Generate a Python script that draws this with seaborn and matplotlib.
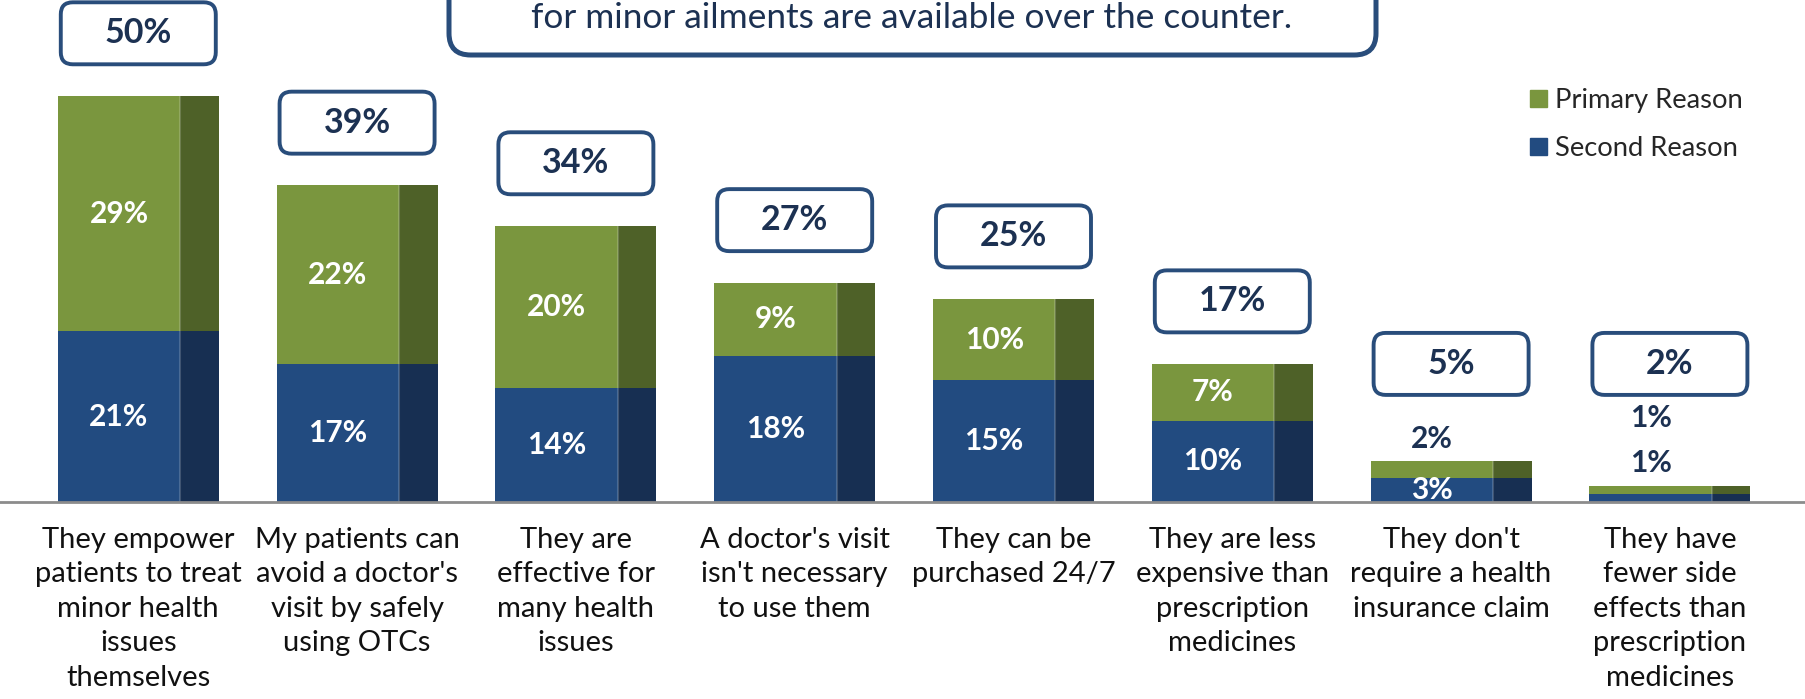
import matplotlib
matplotlib.use("Agg")
import pandas as pd
import matplotlib.pyplot as plt
import seaborn as sns
from matplotlib.patches import FancyBboxPatch, Rectangle, Patch

# --- data
categories = [
    "They empower\npatients to treat\nminor health\nissues\nthemselves",
    "My patients can\navoid a doctor's\nvisit by safely\nusing OTCs",
    "They are\neffective for\nmany health\nissues",
    "A doctor's visit\nisn't necessary\nto use them",
    "They can be\npurchased 24/7",
    "They are less\nexpensive than\nprescription\nmedicines",
    "They don't\nrequire a health\ninsurance claim",
    "They have\nfewer side\neffects than\nprescription\nmedicines",
]
primary = [29, 22, 20, 9, 10, 7, 2, 1]
second = [21, 17, 14, 18, 15, 10, 3, 1]
totals = [50, 39, 34, 27, 25, 17, 5, 2]
series_names = ["Primary Reason", "Second Reason"]
title_line = "for minor ailments are available over the counter."

# --- colours
GREEN = "#7A963E"
GREEN_SIDE = "#4E6128"
BLUE = "#224B80"
BLUE_SIDE = "#172F52"
BOX_EDGE = "#294D7B"
NAVY = "#1C3152"

df = pd.DataFrame({"category": categories, "primary": primary,
                   "second": second, "total": totals})

sns.set_theme(style="white")
plt.rcParams["font.family"] = ["Lato", "DejaVu Sans"]

W, H = 1806, 699
fig = plt.figure(figsize=(W / 100, H / 100), dpi=100)
ax_bottom_px = 197
ax = fig.add_axes([0, ax_bottom_px / H, 1, (H - ax_bottom_px) / H])

bar_w = 0.736
sns.barplot(data=df, x="category", y="total", color=GREEN, width=bar_w,
            saturation=1, errorbar=None, linewidth=0, ax=ax)
green_bars = list(ax.patches)
sns.barplot(data=df, x="category", y="second", color=BLUE, width=bar_w,
            saturation=1, errorbar=None, linewidth=0, ax=ax)
blue_bars = list(ax.patches)[len(green_bars):]

xlim = (-0.632, 7.622)
ylim = (0, 61.8)
ax.set_xlim(*xlim)
ax.set_ylim(*ylim)

# pseudo-3D side faces, with a faint highlight on the front edge
front = 0.76
for g, b in zip(green_bars, blue_bars):
    x, w = g.get_x(), g.get_width()
    ax.add_patch(Rectangle((x + front * w, b.get_height()), (1 - front) * w,
                           g.get_height() - b.get_height(), color=GREEN_SIDE, lw=0))
    ax.add_patch(Rectangle((x + front * w, 0), (1 - front) * w, b.get_height(),
                           color=BLUE_SIDE, lw=0))
    ax.vlines(x + front * w, 0, g.get_height(), color="white", alpha=0.18, lw=1.5)

# segment labels
for i, (g, b) in enumerate(zip(green_bars, blue_bars)):
    xc = g.get_x() + front * g.get_width() / 2
    out_y = totals[i] + 2.8
    for val, base in ((second[i], 0), (primary[i], second[i])):
        if val >= 3:
            ax.text(xc, base + val / 2, f"{val}%", ha="center", va="center",
                    color="white", fontsize=21.5, fontweight="bold")
        else:
            ax.text(xc, out_y, f"{val}%", ha="center", va="center",
                    color=NAVY, fontsize=21.5, fontweight="bold")
            out_y += 5.5

# total boxes
px_x = W / (xlim[1] - xlim[0])
px_y = (H - ax_bottom_px) / (ylim[1] - ylim[0])
asp = px_x / px_y
bw, bh = 155 / px_x, 62 / px_y
for i, t in enumerate(totals):
    cy = max(t + 7.7, 17)
    ax.add_patch(FancyBboxPatch((i - bw / 2, cy - bh / 2), bw, bh,
                                boxstyle="round,pad=0,rounding_size=0.055",
                                mutation_aspect=asp, fc="white", ec=BOX_EDGE,
                                lw=2.8, clip_on=False, zorder=3))
    ax.text(i, cy, f"{t}%", ha="center", va="center", color=NAVY,
            fontsize=24.5, fontweight="bold", zorder=4)

# axes styling
sns.despine(ax=ax, left=True)
ax.spines["bottom"].set_color("#8C8C8C")
ax.spines["bottom"].set_linewidth(2)
ax.set_yticks([])
ax.set_xlabel("")
ax.set_ylabel("")
ax.tick_params(axis="x", length=0, pad=18, labelsize=21, labelcolor="#111111")
for lbl in ax.get_xticklabels():
    lbl.set_linespacing(1.4)

# legend
handles = [Patch(color=GREEN), Patch(color=BLUE)]
fig.legend(handles, series_names, loc="upper left",
           bbox_to_anchor=(1530 / W, 1 - 88 / H), frameon=False, fontsize=19.7,
           handlelength=0.62, handleheight=0.62, handletextpad=0.28,
           labelspacing=0.85, borderpad=0, borderaxespad=0)

# title box (cut at the top)
fig.add_artist(FancyBboxPatch((449 / W, 1 - 55 / H), (1376 - 449) / W, 0.2,
                              transform=fig.transFigure,
                              boxstyle="round,pad=0,rounding_size=0.012",
                              mutation_aspect=W / H, fc="white", ec=BOX_EDGE,
                              lw=3.6, clip_on=False))
fig.text(912 / W, 1 - 18 / H, title_line, ha="center", va="center",
         fontsize=25.4, color=NAVY)

fig.savefig("out.png", dpi=100)
